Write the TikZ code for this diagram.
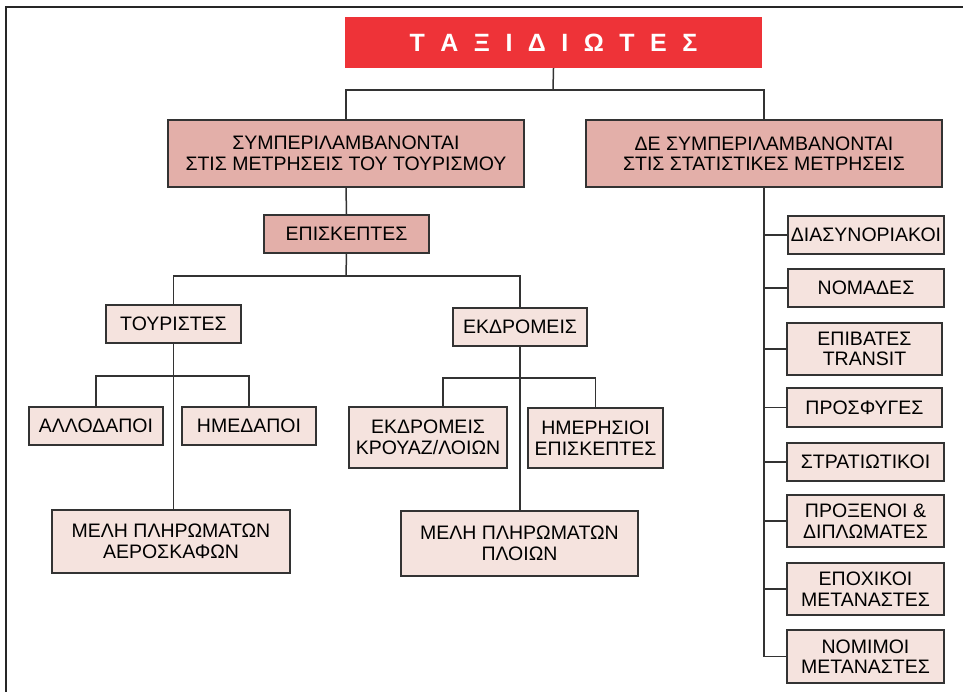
\documentclass[tikz,border=0pt]{standalone}
\usepackage{fontspec}
\setmainfont{Liberation Sans}
\begin{document}
\definecolor{titlered}{HTML}{EE3338}
\definecolor{darkpink}{HTML}{E3AFA9}
\definecolor{lightpink}{HTML}{F5E3DE}
\definecolor{edge}{HTML}{333333}
\newcommand\tsp{\hspace{0.62em}}
\tikzset{
  box/.style={draw=edge, line width=1.5pt, inner sep=0pt, align=center,
    font=\fontsize{19.5}{20.5}\selectfont},
  mainbox/.style={box, fill=darkpink},
  subbox/.style={box, fill=lightpink},
  link/.style={draw=edge, line width=1.5pt},
}
% place a box by its corners (left, top, right, bottom), y measured downward
\newcommand\boxat[7]{%
  \node[#1, minimum width=#5-#3, minimum height=#6-#4] (#2)
    at ({(#3+#5)/2},{(#4+#6)/2}) {#7};}
\begin{tikzpicture}[x=1pt,y=-1pt]
\useasboundingbox (0,0) rectangle (963,692);
% frame
\draw[line width=1.8pt, black!85] (6,692) -- (6,7) -- (963,7);

% title
\node[fill=titlered, inner sep=0pt, minimum width=417, minimum height=51,
  text=white, font=\fontsize{25}{28}\selectfont\bfseries] (title) at (553.5,42.5)
  {Τ\tsp Α\tsp Ξ\tsp Ι\tsp Δ\tsp Ι\tsp Ω\tsp Τ\tsp Ε\tsp Σ};

% first level
\boxat{mainbox}{incl}{168}{120}{524}{187}{ΣΥΜΠΕΡΙΛΑΜΒΑΝΟΝΤΑΙ\\ΣΤΙΣ ΜΕΤΡΗΣΕΙΣ ΤΟΥ ΤΟΥΡΙΣΜΟΥ}
\boxat{mainbox}{excl}{586}{120}{942}{187}{ΔΕ ΣΥΜΠΕΡΙΛΑΜΒΑΝΟΝΤΑΙ\\ΣΤΙΣ ΣΤΑΤΙΣΤΙΚΕΣ ΜΕΤΡΗΣΕΙΣ}
\boxat{mainbox}{visit}{264}{215}{429}{253}{ΕΠΙΣΚΕΠΤΕΣ}

% visitors
\boxat{subbox}{tour}{106}{305}{241}{343}{ΤΟΥΡΙΣΤΕΣ}
\boxat{subbox}{exc}{453}{308}{587}{346}{ΕΚΔΡΟΜΕΙΣ}
\boxat{subbox}{foreign}{29}{407}{163}{445}{ΑΛΛΟΔΑΠΟΙ}
\boxat{subbox}{domestic}{182}{407}{316}{445}{ΗΜΕΔΑΠΟΙ}
\boxat{subbox}{aircrew}{52}{510}{290}{573}{ΜΕΛΗ ΠΛΗΡΩΜΑΤΩΝ\\ΑΕΡΟΣΚΑΦΩΝ}
\boxat{subbox}{cruise}{349}{407}{507}{468}{ΕΚΔΡΟΜΕΙΣ\\ΚΡΟΥΑΖ/ΛΟΙΩΝ}
\boxat{subbox}{dayvis}{528}{408}{663}{468}{ΗΜΕΡΗΣΙΟΙ\\ΕΠΙΣΚΕΠΤΕΣ}
\boxat{subbox}{shipcrew}{401}{511}{638}{576}{ΜΕΛΗ ΠΛΗΡΩΜΑΤΩΝ\\ΠΛΟΙΩΝ}

% excluded categories
\boxat{subbox}{r1}{788}{216}{944}{254}{ΔΙΑΣΥΝΟΡΙΑΚΟΙ}
\boxat{subbox}{r2}{788}{269}{944}{307}{ΝΟΜΑΔΕΣ}
\boxat{subbox}{r3}{787}{323}{942}{375}{ΕΠΙΒΑΤΕΣ\\TRANSIT}
\boxat{subbox}{r4}{787}{388}{942}{427}{ΠΡΟΣΦΥΓΕΣ}
\boxat{subbox}{r5}{787}{443}{944}{481}{ΣΤΡΑΤΙΩΤΙΚΟΙ}
\boxat{subbox}{r6}{787}{495}{944}{547}{ΠΡΟΞΕΝΟΙ \&\\ΔΙΠΛΩΜΑΤΕΣ}
\boxat{subbox}{r7}{787}{563}{944}{615}{ΕΠΟΧΙΚΟΙ\\ΜΕΤΑΝΑΣΤΕΣ}
\boxat{subbox}{r8}{787}{630}{944}{683}{ΝΟΜΙΜΟΙ\\ΜΕΤΑΝΑΣΤΕΣ}

% junctions
\coordinate (j0) at (553,90);
\coordinate (j1) at (346,276);
\coordinate (j2) at (173,376);
\coordinate (j3) at (520,378);
\coordinate (rail) at (764,657);

% connectors
\draw[link] (title.south) -- (j0);
\draw[link] (incl.north) |- (j0) -| (excl.north);
\draw[link] (incl.south) -- (visit.north);
\draw[link] (visit.south) -- (j1);
\draw[link] (tour.north) |- (j1) -| (exc.north);
\draw[link] (tour.south) -- (tour.south |- aircrew.north);
\draw[link] (foreign.north) |- (j2) -| (domestic.north);
\draw[link] (exc.south) -- (exc.south |- shipcrew.north);
\draw[link] ([xshift=15]cruise.north) |- (j3) -| (dayvis.north);
\draw[link] (excl.south) -- (excl.south |- rail);
\foreach \b in {r1,r2,r3,r4,r5,r6,r7,r8}
  \draw[link] (\b.west) -- (\b.west -| excl.south);
\end{tikzpicture}
\end{document}
